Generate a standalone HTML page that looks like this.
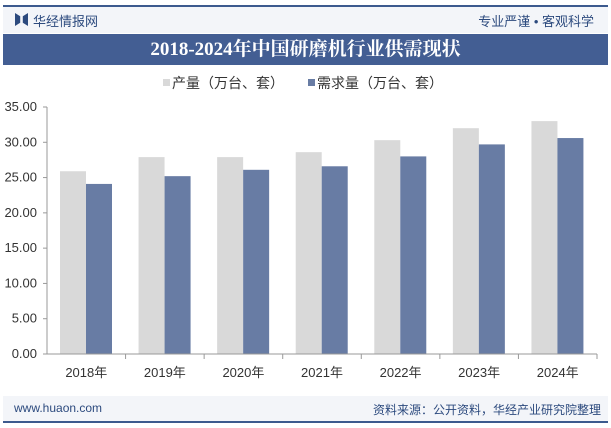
<!DOCTYPE html>
<html><head><meta charset="utf-8"><style>
body{margin:0;width:611px;height:428px;background:#fff;font-family:"Liberation Sans","Noto Sans CJK SC",sans-serif;position:relative;overflow:hidden}
.abs{position:absolute}
</style></head><body>
<div class="abs" style="left:3px;top:5px;width:605px;height:2px;background:#3c5a8e"></div>
<div class="abs" style="left:3px;top:7px;width:605px;height:26px;background:#f3f5f9"></div>
<div class="abs" style="left:15px;top:13px;width:13px;height:13px;background:#2c4a7e;clip-path:polygon(0 0,40% 25%,40% 75%,0 100%,0 0,100% 0,100% 100%,60% 75%,60% 25%,100% 0)"></div>
<div class="abs" style="left:33px;top:11px;font-size:13px;color:#2c4a7e">华经情报网</div>
<div class="abs" style="right:17px;top:11px;font-size:13px;color:#2c4a7e">专业严谨 • 客观科学</div>
<div class="abs" style="left:3px;top:34px;width:605px;height:31px;background:#435e93;color:#fff;font-family:'Liberation Serif','Noto Serif CJK SC',serif;font-weight:bold;font-size:19px;line-height:31px;text-align:center">2018-2024年中国研磨机行业供需现状</div>
<svg class="abs" style="left:0;top:0" width="611" height="428">
<g id="legend"></g><g id="grid"></g><g id="bars"></g><g id="axes"></g>
</svg>
<div class="abs" style="left:3px;top:396px;width:605px;height:25px;background:#f3f5f9"></div>
<div class="abs" style="left:14px;top:401px;font-size:12px;color:#2c4a7e">www.huaon.com</div>
<div class="abs" style="right:10px;top:401px;font-size:12px;color:#2c4a7e">资料来源：公开资料，华经产业研究院整理</div>
<div class="abs" style="left:3px;top:421px;width:605px;height:2px;background:#3c5a8e"></div>
<script>
const categories=["2018年","2019年","2020年","2021年","2022年","2023年","2024年"];
const production=[25.9,27.9,27.9,28.6,30.3,32.0,33.0];
const demand=[24.1,25.2,26.1,26.6,28.0,29.7,30.6];
const ticks=[0,5,10,15,20,25,30,35];
const seriesNames=["产量（万台、套）","需求量（万台、套）"];
const NS="http://www.w3.org/2000/svg";
const x0=47,x1=597,y0=354,yTop=107,vmax=35;
const y=v=>y0-(v/vmax)*(y0-yTop);
const gw=(x1-x0)/categories.length;
function mk(p,t,a){const e=document.createElementNS(NS,t);for(const k in a)e.setAttribute(k,a[k]);p.appendChild(e);return e;}
const G=id=>document.getElementById(id);
const colors=["#d9d9d9","#687ca4"];
seriesNames.forEach((n,i)=>{const lx=[163,308][i];
const r=mk(G('legend'),'rect',{x:lx,y:79,width:7,height:7,fill:colors[i]});

const t=mk(G('legend'),'text',{x:lx+9,y:88,'font-size':14,fill:'#333'});t.textContent=n;
});
ticks.forEach(v=>{const t=mk(G('axes'),'text',{x:37,y:y(v)+4,'font-size':13,fill:'#333','text-anchor':'end'});t.textContent=v.toFixed(2);

const l=mk(G('axes'),'line',{x1:x0-4,x2:x0,y1:y(v),y2:y(v),stroke:'#999'});
});
const ya=mk(G('axes'),'line',{x1:x0,x2:x0,y1:yTop,y2:y0,stroke:'#999'});

const xa=mk(G('axes'),'line',{x1:x0,x2:x1,y1:y0,y2:y0,stroke:'#999'});

categories.forEach((c,i)=>{const gx=x0+i*gw;
[production[i],demand[i]].forEach((v,j)=>{const b=mk(G('bars'),'rect',{x:gx+13+j*26,y:y(v),width:26,height:y0-y(v),fill:colors[j]});
});
const tk=mk(G('axes'),'line',{x1:gx+gw,x2:gx+gw,y1:y0,y2:y0+5,stroke:'#999'});

const t=mk(G('axes'),'text',{x:gx+gw/2,y:y0+23,'font-size':13,fill:'#333','text-anchor':'middle'});t.textContent=c;
});
</script>
</body></html>
